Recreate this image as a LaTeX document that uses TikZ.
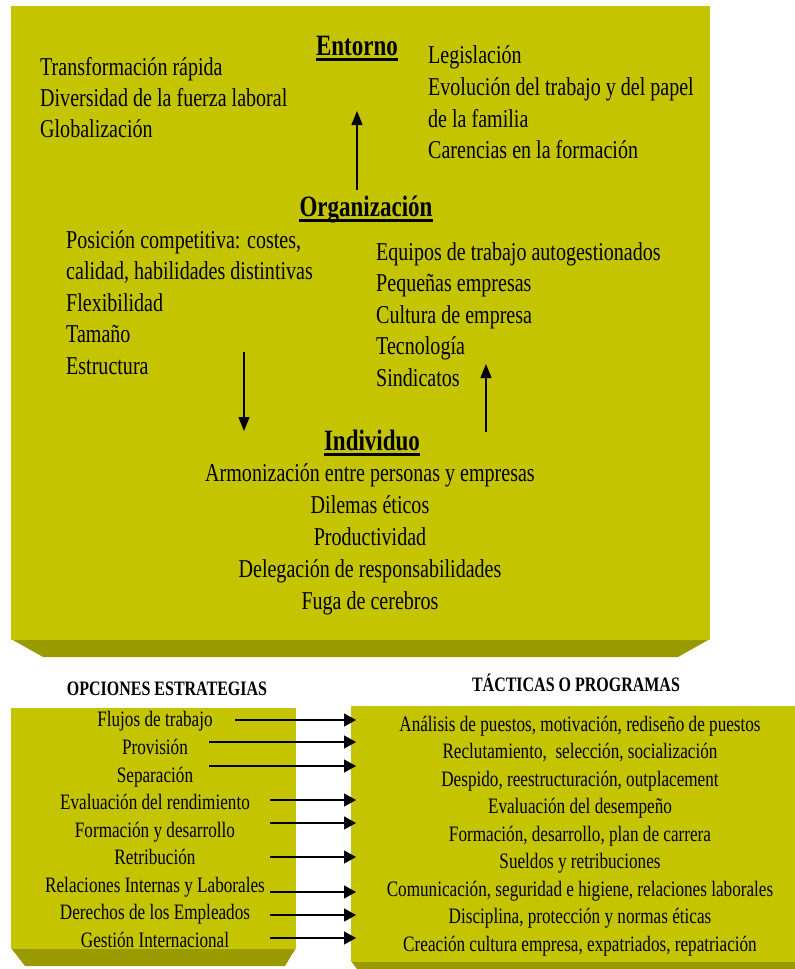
\documentclass[tikz,border=0pt]{standalone}
\usepackage{fontspec}
\setmainfont{Liberation Serif}[FakeStretch=0.78]
\usetikzlibrary{arrows.meta}
\definecolor{olive}{RGB}{196,196,0}
\definecolor{olivedark}{RGB}{153,153,0}
\tikzset{
  face/.style={fill=olive, draw=none},
  bevel/.style={fill=olivedark, draw=none},
  txt/.style={inner sep=0pt, font=\fontsize{25.7}{30}\selectfont},
  small/.style={inner sep=0pt, font=\fontsize{22}{26}\selectfont},
  head/.style={inner sep=0pt, font=\fontsize{29.5}{34}\selectfont\bfseries},
  hdr/.style={inner sep=0pt, font=\fontsize{20.5}{24}\selectfont\bfseries},
  vlink/.style={line width=1.4pt, -{Triangle[length=14pt,width=11pt]}},
  hlink/.style={line width=1.4pt, -{Triangle[length=12pt,width=13pt]}},
  uline/.style={line width=2.6pt}
}
\begin{document}
\begin{tikzpicture}[x=1pt,y=-1pt]
\useasboundingbox (0,0) rectangle (795,969);

% large panel with its bevelled bottom edge
\fill[bevel] (11,639) -- (710,639) -- (678,657) -- (43,657) -- cycle;
\fill[face] (11,6) rectangle (710,640);

% lower panels
\fill[bevel] (11,948) -- (296,948) -- (285,966) -- (25,966) -- cycle;
\fill[face] (11,708) rectangle (296,949);
\fill[bevel] (351,961) -- (795,961) -- (795,969) -- (357,969) -- cycle;
\fill[face] (351,706) rectangle (795,962);

% headings
\node[head, anchor=base] (ent) at (357,55) {Entorno};
\node[head, anchor=base] (org) at (366,216) {Organización};
\node[head, anchor=base] (ind) at (372,450) {Individuo};
\foreach \h in {ent,org,ind}
  \draw[uline] ([yshift=-4.5pt]\h.base west) -- ([yshift=-4.5pt]\h.base east);

% environment
\node[txt, anchor=base west] (e1) at (40,75) {Transformación rápida};
\node[txt, anchor=base west] (e2) at (40,106) {Diversidad de la fuerza laboral};
\node[txt, anchor=base west] (e3) at (40,137) {Globalización};
\node[txt, anchor=base west] (e4) at (428,63) {Legislación};
\node[txt, anchor=base west] (e5) at (428,95) {Evolución del trabajo y del papel};
\node[txt, anchor=base west] (e6) at (428,127) {de la familia};
\node[txt, anchor=base west] (e7) at (428,158.5) {Carencias en la formación};

% organisation
\node[txt, anchor=base west] (o1) at (66,248) {Posición competitiva: costes,};
\node[txt, anchor=base west] (o2) at (66,279.5) {calidad, habilidades distintivas};
\node[txt, anchor=base west] (o3) at (66,311) {Flexibilidad};
\node[txt, anchor=base west] (o4) at (66,342.5) {Tamaño};
\node[txt, anchor=base west] (o5) at (66,374) {Estructura};
\node[txt, anchor=base west] (o6) at (376,260) {Equipos de trabajo autogestionados};
\node[txt, anchor=base west] (o7) at (376,291.5) {Pequeñas empresas};
\node[txt, anchor=base west] (o8) at (376,323) {Cultura de empresa};
\node[txt, anchor=base west] (o9) at (376,354.5) {Tecnología};
\node[txt, anchor=base west] (o10) at (376,386) {Sindicatos};

% individual
\node[txt, anchor=base] (i1) at (370,481) {Armonización entre personas y empresas};
\node[txt, anchor=base] (i2) at (370,513) {Dilemas éticos};
\node[txt, anchor=base] (i3) at (370,545) {Productividad};
\node[txt, anchor=base] (i4) at (370,577) {Delegación de responsabilidades};
\node[txt, anchor=base] (i5) at (370,609) {Fuga de cerebros};

% vertical connectors
\coordinate (upA) at (357,190);
\coordinate (upAt) at (357,111);
\coordinate (dnB) at (244,352);
\coordinate (dnBt) at (244,431);
\coordinate (upC) at (486,432);
\coordinate (upCt) at (486,364);
\draw[vlink] (upA) -- (upAt);
\draw[vlink] (dnB) -- (dnBt);
\draw[vlink] (upC) -- (upCt);

% lower headers
\node[hdr, anchor=base] (hl) at (167,695) {OPCIONES ESTRATEGIAS};
\node[hdr, anchor=base] (hr) at (576,691) {TÁCTICAS O PROGRAMAS};

% strategic options
\foreach \n/\y/\t in {
  1/726/Flujos de trabajo,
  2/754/Provisión,
  3/782/Separación,
  4/809/Evaluación del rendimiento,
  5/837/Formación y desarrollo,
  6/864/Retribución,
  7/892/Relaciones Internas y Laborales,
  8/919/Derechos de los Empleados,
  9/947/Gestión Internacional}
  \node[small, anchor=base] (s\n) at (155,\y) {\t};

% tactics and programmes
\foreach \n/\y/\t in {
  1/731/{Análisis de puestos, motivación, rediseño de puestos},
  2/758.5/{Reclutamiento,\ \ selección, socialización},
  3/786/{Despido, reestructuración, outplacement},
  4/813.5/{Evaluación del desempeño},
  5/841/{Formación, desarrollo, plan de carrera},
  6/868.5/{Sueldos y retribuciones},
  7/896/{Comunicación, seguridad e higiene, relaciones laborales},
  8/923.5/{Disciplina, protección y normas éticas},
  9/951/{Creación cultura empresa, expatriados, repatriación}}
  \node[small, anchor=base] (t\n) at (580,\y) {\t};

% horizontal connectors
\foreach \n/\x/\y in {1/235/720, 2/209/742, 3/209/766, 4/270/800, 5/270/823,
                      6/270/857, 7/270/892, 8/270/915, 9/270/938} {
  \coordinate (a\n) at (\x,\y);
  \coordinate (b\n) at (356,\y);
  \draw[hlink] (a\n) -- (b\n);
}
\end{tikzpicture}
\end{document}
